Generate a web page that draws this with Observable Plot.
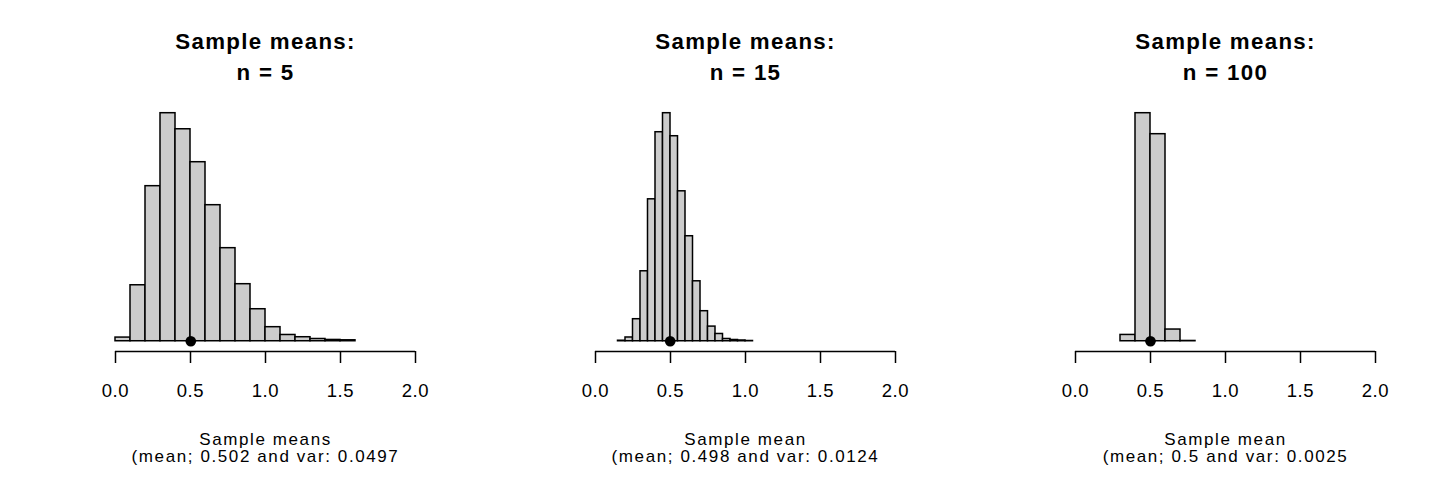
<!DOCTYPE html>
<html>
<head>
<meta charset="utf-8">
<script src="https://cdn.jsdelivr.net/npm/d3@7"></script>
<script src="https://cdn.jsdelivr.net/npm/@observablehq/plot@0.6"></script>
<style>
  html, body { margin: 0; padding: 0; background: #ffffff; }
  #row { display: flex; flex-direction: row; width: 1440px; height: 480px; }
</style>
</head>
<body>
<div id="row"></div>
<script>
// ---- data ----
const sampleSizes = [5, 15, 100];
const titles = ["Sample means:\nn = 5", "Sample means:\nn = 15", "Sample means:\nn = 100"];
const xLabels = [
  "Sample means\n(mean; 0.502 and var: 0.0497",
  "Sample mean\n(mean; 0.498 and var: 0.0124",
  "Sample mean\n(mean; 0.5 and var: 0.0025"
];
const sampleMeans = [0.502, 0.498, 0.5];
const xTicks = [0, 0.5, 1.0, 1.5, 2.0];

// histogram n = 5 (bin edges, counts)
const edges5 = [0.0, 0.1, 0.2, 0.3, 0.4, 0.5, 0.6, 0.7, 0.8, 0.9, 1.0, 1.1, 1.2, 1.3, 1.4, 1.5, 1.6];
const counts5 = [31, 474, 1313, 1931, 1795, 1516, 1152, 788, 483, 271, 119, 53, 34, 19, 11, 8];

// histogram n = 15
const edges15 = [0.15, 0.20, 0.25, 0.30, 0.35, 0.40, 0.45, 0.50, 0.55, 0.60, 0.65, 0.70, 0.75, 0.80, 0.85, 0.90, 0.95, 1.00, 1.05];
const counts15 = [4, 30, 176, 559, 1134, 1670, 1822, 1638, 1198, 839, 479, 240, 117, 58, 18, 10, 6, 2];

// histogram n = 100
const edges100 = [0.3, 0.4, 0.5, 0.6, 0.7, 0.8];
const counts100 = [139, 5030, 4567, 258, 6];

const allEdges = [edges5, edges15, edges100];
const allCounts = [counts5, counts15, counts100];

// ---- drawing ----
const font = "'Liberation Sans', Arial, Helvetica, sans-serif";
const row = document.getElementById("row");

sampleSizes.forEach((n, i) => {
  const edges = allEdges[i];
  const counts = allCounts[i];
  const bins = counts.map((c, k) => ({x1: edges[k], x2: edges[k + 1], count: c}));
  const M = d3.max(counts);
  const yLow = -0.045 * M;

  const chart = Plot.plot({
    width: 480,
    height: 480,
    marginLeft: 115,
    marginRight: 65,
    marginTop: 112.7,
    marginBottom: 129,
    style: {fontFamily: font, fontSize: "18.5px", background: "#ffffff", color: "#000000"},
    x: {domain: [xTicks[0], xTicks[xTicks.length - 1]]},
    y: {domain: [yLow, M], axis: null},
    marks: [
      Plot.rectY(bins, {x1: "x1", x2: "x2", y1: 0, y2: "count", fill: "#cccccc", stroke: "#000000", strokeWidth: 1.5, inset: 0}),
      Plot.ruleY([yLow], {x1: xTicks[0], x2: xTicks[xTicks.length - 1], stroke: "#000000", strokeWidth: 1.5}),
      Plot.axisX({ticks: xTicks, tickFormat: d3.format(".1f"), tickSize: 12, tickPadding: 20.6, strokeWidth: 1.5, label: null, fill: "#000000"}),
      Plot.dot([sampleMeans[i]], {x: d => d, y: 0, r: 5.3, fill: "#000000", stroke: null}),
      Plot.text([titles[i]], {frameAnchor: "top", lineAnchor: "top", dy: -85.8, fontSize: 22.3, fontWeight: "bold", lineHeight: 1.37, fill: "#000000", text: d => d}),
      Plot.text([xLabels[i]], {frameAnchor: "bottom", lineAnchor: "top", dy: 81.8, fontSize: 17, lineHeight: 1.0, fill: "#000000", text: d => d})
    ]
  });
  // letter spacing per text group (axis ticks, title, axis label)
  const textGroups = chart.querySelectorAll('g[aria-label="text"]');
  if (textGroups[0]) textGroups[0].style.letterSpacing = "1.3px";
  if (textGroups[1]) textGroups[1].style.letterSpacing = "1.6px";
  const tickGroup = chart.querySelector('g[aria-label="x-axis tick label"]');
  if (tickGroup) tickGroup.style.letterSpacing = "0.6px";
  row.appendChild(chart);
});
</script>
</body>
</html>
